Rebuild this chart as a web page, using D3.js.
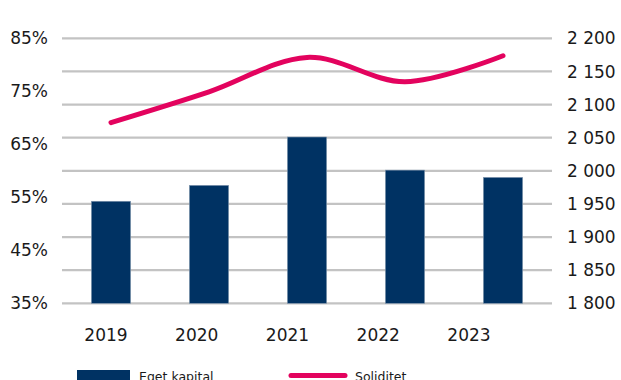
<!DOCTYPE html>
<html>
<head>
<meta charset="utf-8">
<script src="https://cdn.jsdelivr.net/npm/d3@7"></script>
<style>
  html, body { margin: 0; padding: 0; background: #fff; }
  svg { display: block; font-family: "DejaVu Sans", sans-serif; }
</style>
</head>
<body>
<svg id="chart" width="621" height="380"></svg>
<script>
// Years on the category axis
const years = ["2019", "2020", "2021", "2022", "2023"];
// Eget kapital (bars, right axis)
const egetKapital = [1954, 1978, 2051, 2001, 1990];
// Soliditet in % (line, left axis)
const soliditet = [69.1, 74.9, 81.4, 76.8, 81.7];
// Axis ticks
const leftTicks = [35, 45, 55, 65, 75, 85];
const rightTicks = [1800, 1850, 1900, 1950, 2000, 2050, 2100, 2150, 2200];

const navy = "#003263";
const pink = "#E3035E";
const grid = "#c3c3c3";

const svg = d3.select("#chart");
const plot = { left: 62, right: 552, top: 38.3, bottom: 303.3 };

const x = d3.scaleBand().domain(years).range([plot.left, plot.right]).paddingInner(0.6).paddingOuter(0.3);
const yRight = d3.scaleLinear().domain([1800, 2200]).range([plot.bottom, plot.top]);
const yLeft = d3.scaleLinear().domain([35, 85]).range([plot.bottom, plot.top]);
// Category labels sit on their own spacing beneath the bars
const xLabel = d3.scalePoint().domain(years).range([106, 469]);

const fmt = d3.formatLocale({ decimal: ",", thousands: "\u00a0", grouping: [3], currency: ["", ""] }).format(",d");

// Gridlines follow the right-axis ticks
svg.append("g").selectAll("line").data(rightTicks).join("line")
  .attr("x1", plot.left).attr("x2", plot.right)
  .attr("y1", d => yRight(d)).attr("y2", d => yRight(d))
  .attr("stroke", grid).attr("stroke-width", 2.2);

// Bars
svg.append("g").selectAll("rect").data(years).join("rect")
  .attr("x", d => x(d))
  .attr("width", x.bandwidth())
  .attr("y", (d, i) => yRight(egetKapital[i]))
  .attr("height", (d, i) => yRight(1800) - yRight(egetKapital[i]))
  .attr("fill", navy)
  .attr("stroke", "#7f95ad").attr("stroke-width", 0.6);

// Smoothed solidity line
const line = d3.line()
  .x((d, i) => x(years[i]) + x.bandwidth() / 2)
  .y(d => yLeft(d))
  .curve(d3.curveCardinal.tension(0));
svg.append("path").datum(soliditet)
  .attr("d", line)
  .attr("fill", "none").attr("stroke", pink)
  .attr("stroke-width", 5).attr("stroke-linecap", "round");

// Left axis labels
svg.append("g").selectAll("text").data(leftTicks).join("text")
  .attr("x", 48).attr("y", d => yLeft(d)).attr("dy", "0.36em")
  .attr("text-anchor", "end").attr("font-size", 17).attr("fill", "#1a1a1a")
  .text(d => d + "%");

// Right axis labels
svg.append("g").selectAll("text").data(rightTicks).join("text")
  .attr("x", 567).attr("y", d => yRight(d)).attr("dy", "0.36em")
  .attr("text-anchor", "start").attr("font-size", 17).attr("fill", "#1a1a1a")
  .text(d => fmt(d));

// Year labels
svg.append("g").selectAll("text").data(years).join("text")
  .attr("x", d => xLabel(d)).attr("y", 341)
  .attr("text-anchor", "middle").attr("font-size", 17).attr("fill", "#1a1a1a")
  .text(d => d);

// Legend
const legend = svg.append("g");
legend.append("rect").attr("x", 77).attr("y", 370).attr("width", 53).attr("height", 14).attr("fill", navy);
legend.append("text").attr("x", 139).attr("y", 380.5).attr("font-size", 12.5).attr("fill", "#1a1a1a").text("Eget kapital");
legend.append("line").attr("x1", 291).attr("x2", 345).attr("y1", 375.5).attr("y2", 375.5)
  .attr("stroke", pink).attr("stroke-width", 5).attr("stroke-linecap", "round");
legend.append("text").attr("x", 355).attr("y", 380.5).attr("font-size", 12.5).attr("fill", "#1a1a1a").text("Soliditet");
</script>
</body>
</html>
